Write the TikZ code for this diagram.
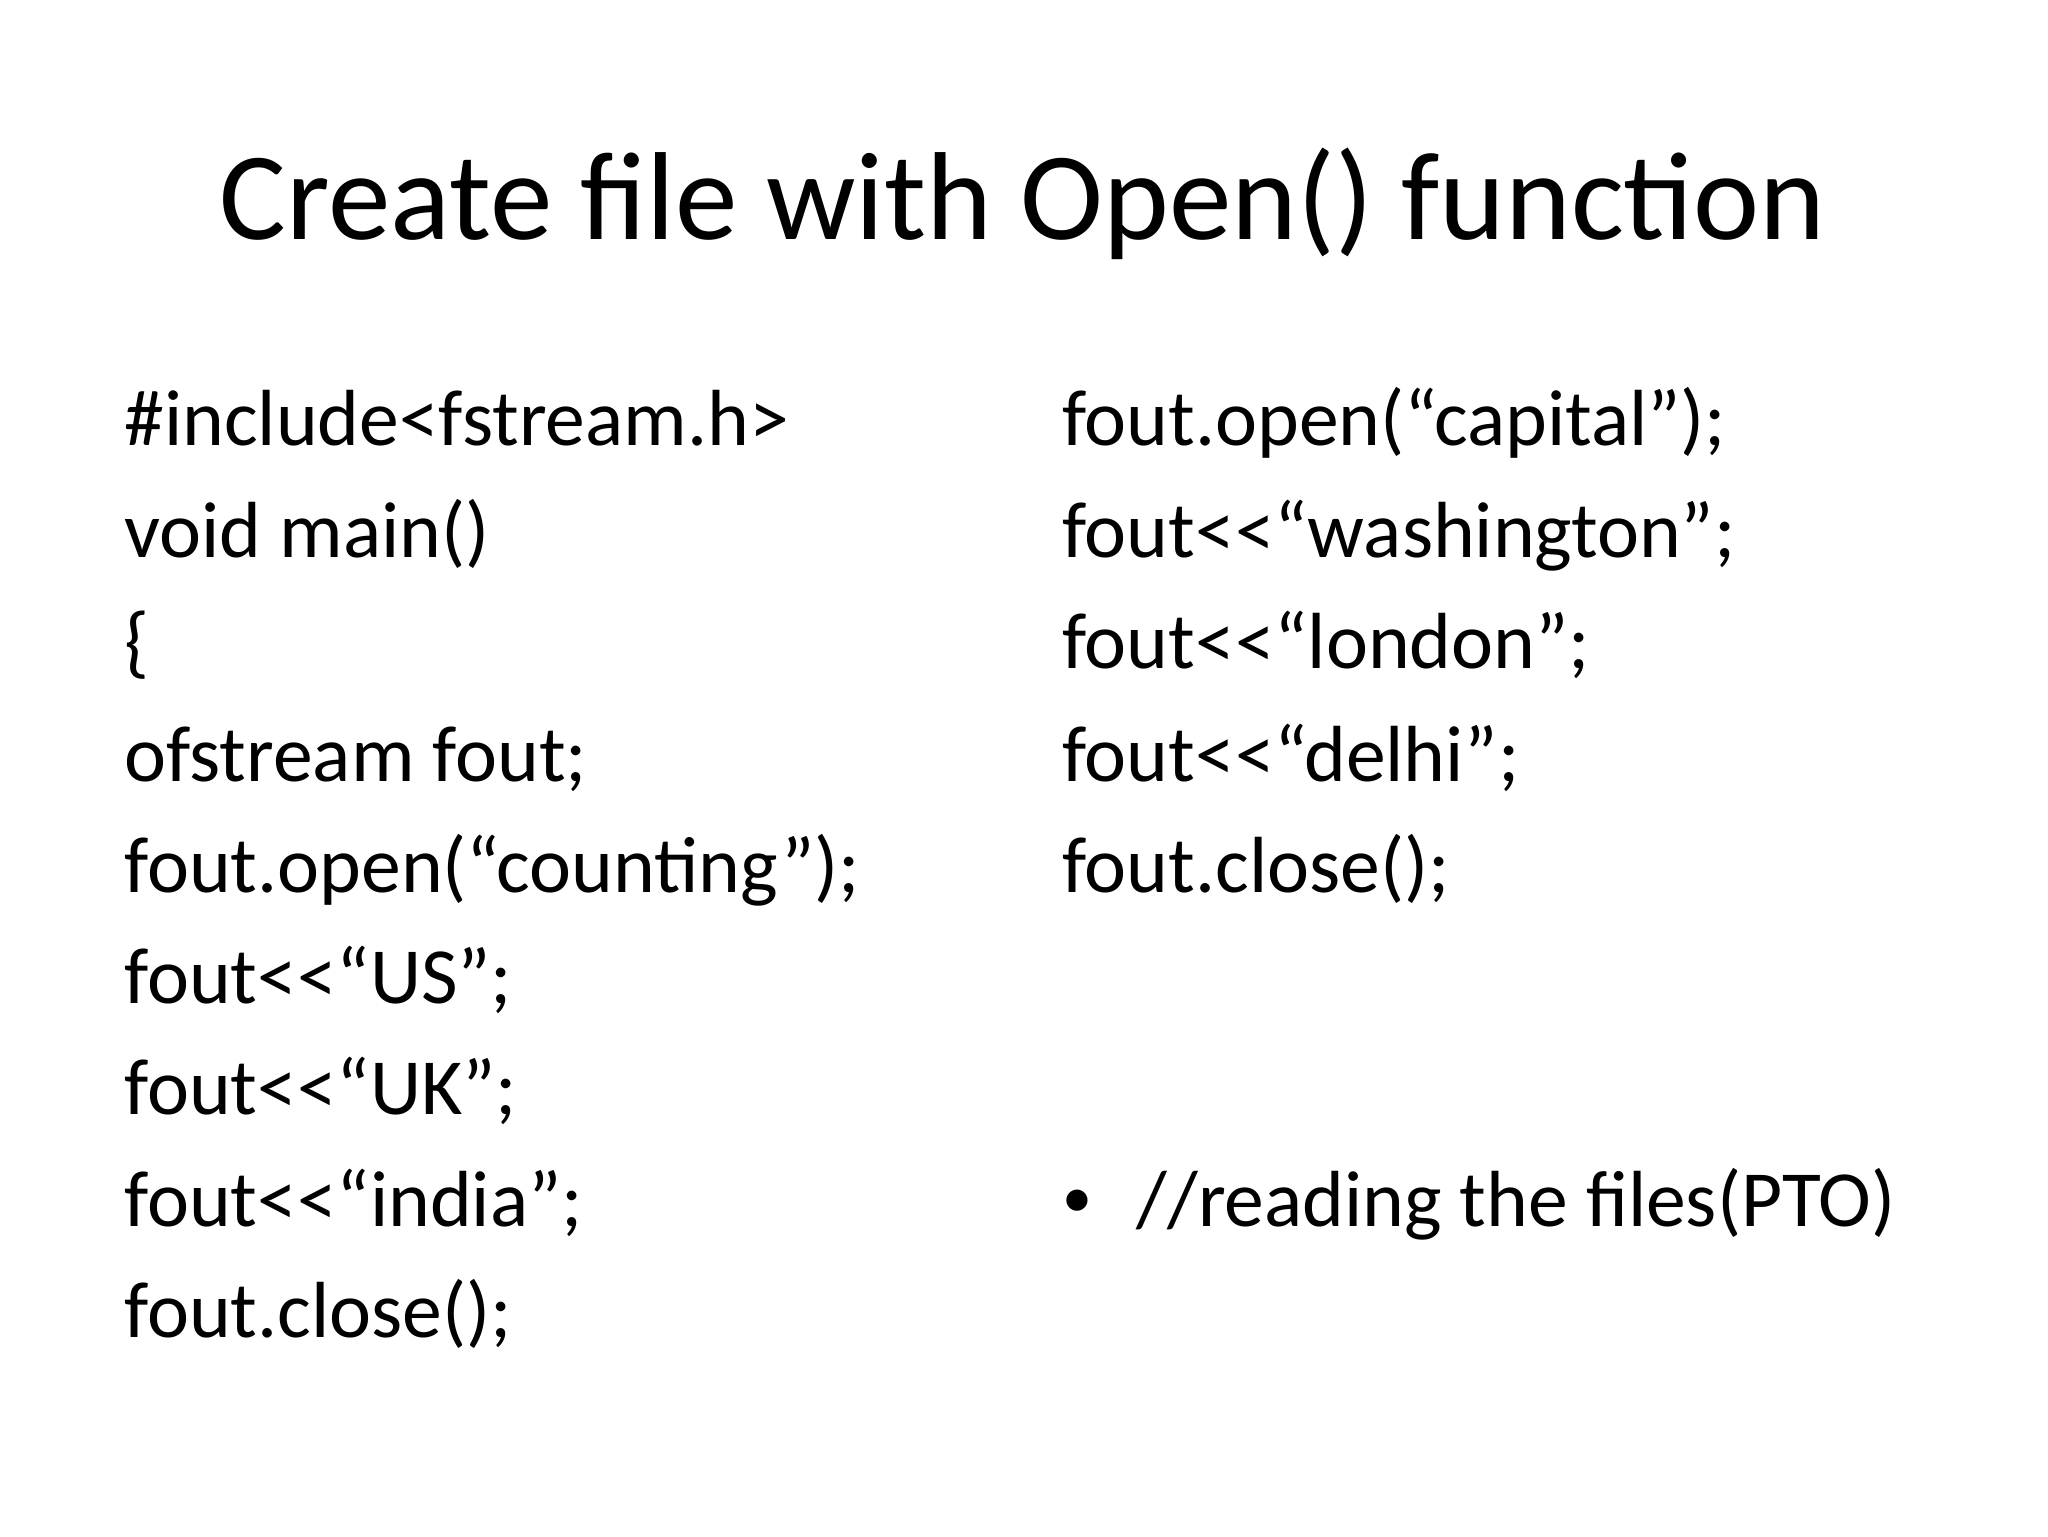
\documentclass[tikz,border=0pt]{standalone}
\usepackage{fontspec}
\setmainfont{Carlito}
\begin{document}
\begin{tikzpicture}[x=0.65306pt,y=-0.65306pt,
  code/.style={anchor=base west,inner sep=0pt,font=\fontsize{39.8}{48}\selectfont}]
\useasboundingbox (0,0) rectangle (1568,1176);
\fill[white] (0,0) rectangle (1568,1176);
\node[anchor=base,inner sep=0pt,font=\fontsize{62.6}{75}\selectfont] (title) at (783,183) {Create file with Open() function};
\node[code] (l1) at (95,341) {\#include<fstream.h>};
\node[code] (l2) at (95,427) {void main()};
\node[code] (l3) at (95,512) {\{};
\node[code] (l4) at (95,598) {ofstream fout;};
\node[code] (l5) at (95,683) {fout.open(“counting”);};
\node[code] (l6) at (95,768) {fout<{}<“US”;};
\node[code] (l7) at (95,853) {fout<{}<“UK”;};
\node[code] (l8) at (95,939) {fout<{}<“india”;};
\node[code] (l9) at (95,1024) {fout.close();};
\node[code] (r1) at (813,341) {fout.open(“capital”);};
\node[code] (r2) at (813,427) {fout<{}<“washington”;};
\node[code] (r3) at (813,512) {fout<{}<“london”;};
\node[code] (r4) at (813,598) {fout<{}<“delhi”;};
\node[code] (r5) at (813,683) {fout.close();};
\node[code,font=\fontsize{30}{36}\selectfont] (bul) at (813,932) {•};
\node[code] (r6) at (870,939) {//reading the files(PTO)};
\end{tikzpicture}
\end{document}
